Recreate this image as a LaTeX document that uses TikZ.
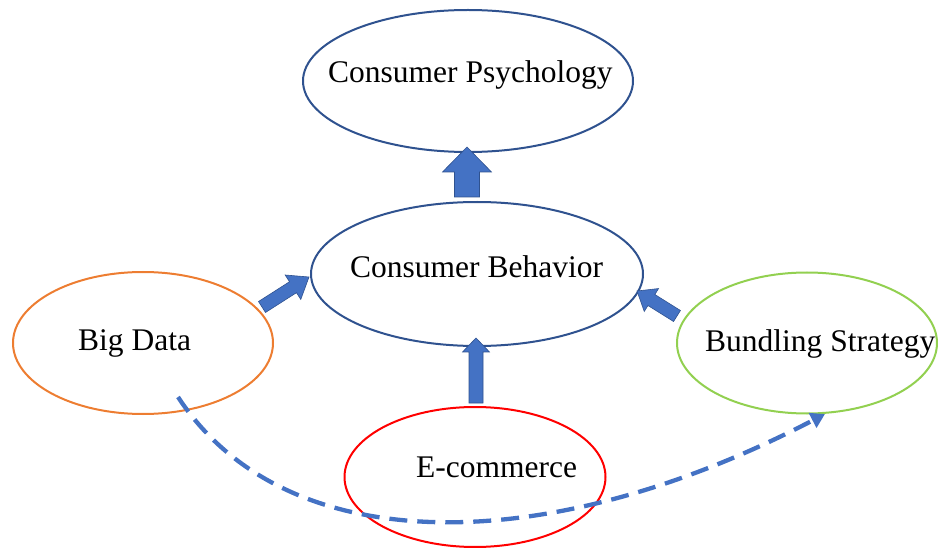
\documentclass[tikz,border=0pt]{standalone}
\usepackage{fontspec}
\setmainfont{Liberation Serif}
\usetikzlibrary{calc,shapes.geometric,arrows.meta}
\definecolor{outblue}{HTML}{2F528F}
\definecolor{fillblue}{HTML}{4472C4}
\definecolor{orng}{HTML}{ED7D31}
\definecolor{grn}{HTML}{92D050}
\definecolor{rd}{HTML}{FF0000}
% #1 tail, #2 tip, #3 half shaft width, #4 half head width, #5 head length
\newcommand\blockarrow[5]{%
  \coordinate (hb) at ($(#2)!#5!(#1)$);
  \fill[blockfill] ($(#1)!#3!90:(#2)$) -- ($(hb)!#3!90:(#2)$) -- ($(hb)!#4!90:(#2)$)
    -- (#2) -- ($(hb)!#4!-90:(#2)$) -- ($(hb)!#3!-90:(#2)$) -- ($(#1)!#3!-90:(#2)$) -- cycle;
}
\begin{document}
\begin{tikzpicture}[x=1pt,y=-1pt,
  oval/.style={ellipse,draw,line width=2pt,inner sep=0pt},
  lbl/.style={anchor=base west,inner sep=0pt,font=\fontsize{31.5}{38}\selectfont},
  blockfill/.style={fill=fillblue,draw=outblue,line width=0.6pt},
  dashcurve/.style={draw=fillblue,line width=4.3pt,dash pattern=on 18pt off 10pt,
    -{Triangle[width=16pt,length=14pt]}}]
\useasboundingbox (0,0) rectangle (938,548);
% ellipses
\node[oval,draw=outblue,minimum width=330pt,minimum height=142pt] (cp) at (468,81) {};
\node[oval,draw=outblue,minimum width=332pt,minimum height=144pt] (cb) at (477,274) {};
\node[oval,draw=orng,minimum width=260pt,minimum height=142pt] (bd) at (143,343) {};
\node[oval,draw=grn,minimum width=260pt,minimum height=141pt] (bs) at (807,343) {};
\node[oval,draw=rd,minimum width=261pt,minimum height=140pt] (ec) at (475,477) {};
% texts
\node[lbl] (cpt) at (328,83) {Consumer Psychology};
\node[lbl] (cbt) at (350,278) {Consumer Behavior};
\node[lbl] (bdt) at (78,351) {Big Data};
\node[lbl] (bst) at (705,352) {Bundling Strategy};
\node[lbl] (ect) at (416,477) {E-commerce};
% block arrows
\coordinate (a1s) at (467,197); \coordinate (a1e) at (467,147);
\coordinate (a2s) at (476,403); \coordinate (a2e) at (476,338);
\coordinate (a3s) at (262,307); \coordinate (a3e) at (309,277);
\coordinate (a4s) at (677,316); \coordinate (a4e) at (637,291);
\blockarrow{a1s}{a1e}{12.5pt}{24.5pt}{25pt}
\blockarrow{a2s}{a2e}{7pt}{13.5pt}{14pt}
\blockarrow{a3s}{a3e}{6.5pt}{14.5pt}{19pt}
\blockarrow{a4s}{a4e}{6.5pt}{13.5pt}{17pt}
% dashed curve
\coordinate (ds) at (178,397);
\coordinate (de) at (825,414);
\draw[dashcurve] (ds) .. controls (285,560) and (545,560) .. (de);
\end{tikzpicture}
\end{document}
